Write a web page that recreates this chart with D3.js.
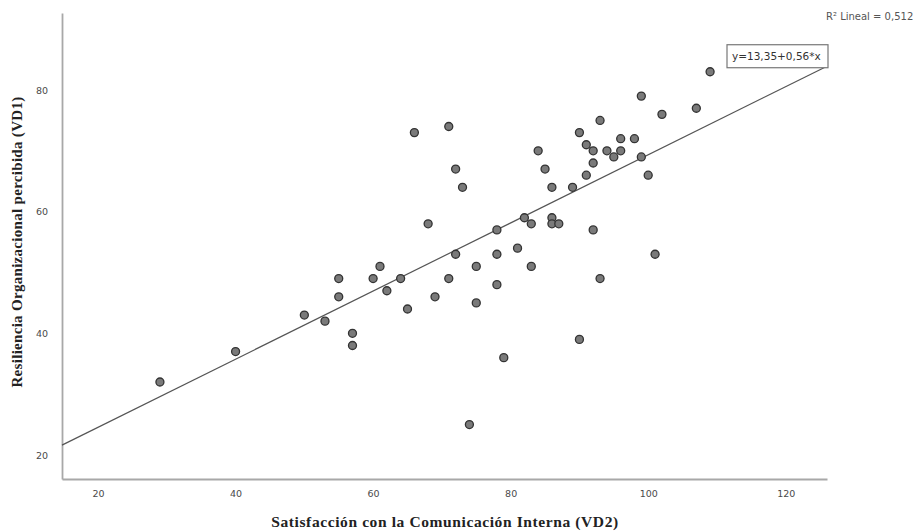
<!DOCTYPE html>
<html>
<head>
<meta charset="utf-8">
<script src="https://cdn.jsdelivr.net/npm/d3@7"></script>
<style>
  body { margin: 0; background: #fff; }
  svg { display: block; }
</style>
</head>
<body>
<div id="chart"></div>
<script>
// Satisfacción con la Comunicación Interna (VD2) for each case
const commValues = [29, 40, 50, 53, 55, 55, 57, 57, 60, 61, 62, 64, 65, 66, 68, 69, 71, 71, 72, 72,
  73, 74, 75, 75, 78, 78, 78, 79, 81, 82, 83, 83, 84, 85, 86, 86, 86, 87, 89, 90,
  90, 91, 91, 92, 92, 92, 93, 93, 94, 95, 96, 96, 98, 99, 99, 100, 101, 102, 107, 109];
// Resiliencia Organizacional percibida (VD1) for the same cases
const resilValues = [32, 37, 43, 42, 49, 46, 40, 38, 49, 51, 47, 49, 44, 73, 58, 46, 74, 49, 67, 53,
  64, 25, 51, 45, 57, 53, 48, 36, 54, 59, 58, 51, 70, 67, 64, 59, 58, 58, 64, 73,
  39, 66, 71, 68, 70, 57, 75, 49, 70, 69, 70, 72, 72, 69, 79, 66, 53, 76, 77, 83];

const xTicks = [20, 40, 60, 80, 100, 120];
const yTicks = [20, 40, 60, 80];

// fit line reported in the chart
const intercept = 13.35;
const slope = 0.56;
const equationLabel = "y=13,35+0,56*x";
const r2Label = "R² Lineal = 0,512";

const width = 918, height = 531;
const plotLeft = 62, plotRight = 827, plotTop = 13, plotBottom = 479;

const x = d3.scaleLinear().domain([14.76, 126]).range([plotLeft, plotRight]);
const y = d3.scaleLinear().domain([16.05, 92.66]).range([plotBottom, plotTop]);

const svg = d3.select("#chart").append("svg")
    .attr("width", width)
    .attr("height", height);

// axes (lines only, no tick marks)
const xAxis = svg.append("g")
    .attr("transform", "translate(0," + plotBottom + ")")
    .call(d3.axisBottom(x).tickValues(xTicks).tickSize(0).tickPadding(11));
const yAxis = svg.append("g")
    .attr("transform", "translate(" + plotLeft + ",0)")
    .call(d3.axisLeft(y).tickValues(yTicks).tickSize(0).tickPadding(14));

[xAxis, yAxis].forEach(function (a) {
    a.select(".domain").attr("stroke", "#a8a8a8").attr("stroke-width", 1.8);
    a.selectAll("text")
        .attr("fill", "#4a4a4a")
        .style("font-family", "'DejaVu Sans', sans-serif")
        .style("font-size", "9.5px");
});

// regression line
const xDom = x.domain();
svg.append("line")
    .attr("x1", x(xDom[0]))
    .attr("y1", y(intercept + slope * xDom[0]))
    .attr("x2", x(xDom[1]))
    .attr("y2", y(intercept + slope * xDom[1]))
    .attr("stroke", "#555")
    .attr("stroke-width", 1.2);

// points
svg.append("g").selectAll("circle")
    .data(commValues.map((v, i) => ({ x: v, y: resilValues[i] })))
    .enter().append("circle")
    .attr("cx", d => x(d.x))
    .attr("cy", d => y(d.y))
    .attr("r", 4)
    .attr("fill", "#7a7a7a")
    .attr("stroke", "#333")
    .attr("stroke-width", 1.3);

// equation box, its bottom-right corner at the end of the fit line
const ex = x(xDom[1]) + 1, ey = y(intercept + slope * xDom[1]) + 1.5;
const boxW = 101, boxH = 23;
svg.append("rect")
    .attr("x", ex - boxW)
    .attr("y", ey - boxH)
    .attr("width", boxW)
    .attr("height", boxH)
    .attr("fill", "#fff")
    .attr("stroke", "#777")
    .attr("stroke-width", 1.2);
svg.append("text")
    .attr("x", ex - boxW + 5)
    .attr("y", ey - 8)
    .attr("fill", "#333")
    .style("font-family", "'DejaVu Sans', sans-serif")
    .style("font-size", "10.5px")
    .text(equationLabel);

// R² label in the top-right corner
svg.append("text")
    .attr("x", 826)
    .attr("y", 20)
    .attr("fill", "#555")
    .style("font-family", "'DejaVu Sans', sans-serif")
    .style("font-size", "10px")
    .text(r2Label);

// axis titles
svg.append("text")
    .attr("x", 445)
    .attr("y", 527)
    .attr("text-anchor", "middle")
    .attr("fill", "#222")
    .style("font-family", "'Liberation Serif', serif")
    .style("font-weight", "bold")
    .style("font-size", "15.5px")
    .style("letter-spacing", "0.6px")
    .text("Satisfacción con la Comunicación Interna (VD2)");

svg.append("text")
    .attr("transform", "translate(22,242) rotate(-90)")
    .attr("text-anchor", "middle")
    .attr("fill", "#222")
    .style("font-family", "'Liberation Serif', serif")
    .style("font-weight", "bold")
    .style("font-size", "15px")
    .style("letter-spacing", "0.3px")
    .text("Resiliencia Organizacional percibida (VD1)");
</script>
</body>
</html>
